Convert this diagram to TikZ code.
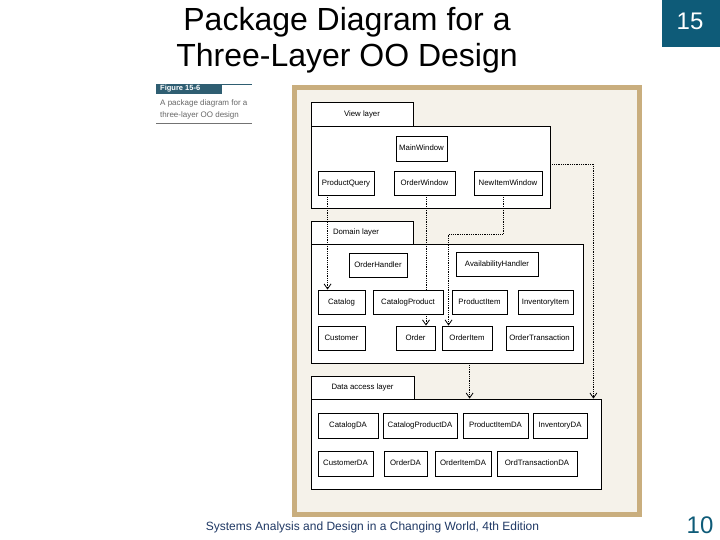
\documentclass[tikz,border=0pt]{standalone}
\usepackage{fontspec}
\setmainfont{Liberation Sans}
\usetikzlibrary{arrows.meta}
\definecolor{frametan}{HTML}{C9AE7E}
\definecolor{framebg}{HTML}{F5F2EA}
\definecolor{teal}{HTML}{0E5B78}
\definecolor{slate}{HTML}{2F5E72}
\definecolor{foot}{HTML}{1F3864}
\pgfdeclarelayer{back}
\pgfdeclarelayer{deps}
\pgfsetlayers{back,deps,main}
\tikzset{
  cls/.style={draw=black, line width=0.9pt, fill=white, inner sep=0pt,
    font=\fontsize{7.8}{9}\selectfont, minimum height=24pt,
    text height=5.8pt, text depth=1.2pt},
  pkg/.style={draw=black, line width=0.8pt, fill=white, inner sep=0pt},
  tablbl/.style={font=\fontsize{7.8}{9}\selectfont, text height=5.8pt, text depth=1.2pt},
  dep/.style={densely dotted, line width=0.8pt, -{Straight Barb[length=5pt,width=7pt,line width=0.8pt]}}
}
\begin{document}
\begin{tikzpicture}[x=1pt,y=-1pt]
\useasboundingbox (0,0) rectangle (720,540);
% title
\node[align=center, font=\fontsize{32}{36}\selectfont] (title) at (347,40)
  {Package Diagram for a\\Three-Layer OO Design};
\fill[teal] (662,0) rectangle (720,47);
\node[text=white, font=\fontsize{24}{28}\selectfont] (pnum) at (690,21) {15};
% caption block
\draw[slate, line width=0.6pt] (156,84) -- (252,84);
\fill[slate] (156,84) rectangle (222,94);
\node[anchor=west, text=white, font=\fontsize{7.5}{8}\bfseries, inner sep=0pt] (figlbl) at (160,89) {Figure 15-6};
\node[anchor=west, text=black!60, align=left, inner sep=0pt, font=\fontsize{8}{12}\selectfont] (cap) at (160,109)
  {A package diagram for a\\three-layer OO design};
\draw[black!55, line width=0.8pt] (156,123) -- (252,123);
\begin{pgfonlayer}{back}
% frame
\draw[line width=4.5pt, draw=frametan, fill=framebg] (294.5,87.5) rectangle (639.5,514.5);
% package outlines
\node[pkg, minimum width=102pt, minimum height=24.5pt] (viewtab) at (362,114.2) {};
\node[pkg, minimum width=239pt, minimum height=82pt] (viewbody) at (430.5,167) {};
\node[pkg, minimum width=102pt, minimum height=23pt] (domtab) at (362,232.5) {};
\node[pkg, minimum width=272pt, minimum height=119pt] (dombody) at (447,303.5) {};
\node[pkg, minimum width=103pt, minimum height=23pt] (datab) at (362.5,387.5) {};
\node[pkg, minimum width=290pt, minimum height=90pt] (dabody) at (456,444) {};
\end{pgfonlayer}
% tab labels
\node[tablbl] (viewlbl) at (viewtab.center) {View layer};
\node[tablbl] (domlbl) at (356,232.5) {Domain layer};
\node[tablbl] (dalbl) at (datab.center) {Data access layer};
% view layer
\node[cls, minimum width=51pt, minimum height=25pt] (MainWindow) at (421.5,148.5) {MainWindow};
\node[cls, minimum width=56pt] (ProductQuery) at (346,183) {ProductQuery};
\node[cls, minimum width=61pt] (OrderWindow) at (424.5,183) {OrderWindow};
\node[cls, minimum width=68pt] (NewItemWindow) at (508,183) {NewItemWindow};
% domain layer
\node[cls, minimum width=58pt] (OrderHandler) at (378,265) {OrderHandler};
\node[cls, minimum width=82pt] (AvailabilityHandler) at (497,264) {AvailabilityHandler};
\node[cls, minimum width=47pt] (Catalog) at (341.5,302) {Catalog};
\node[cls, minimum width=70pt] (CatalogProduct) at (408,302) {CatalogProduct};
\node[cls, minimum width=55pt] (ProductItem) at (479.5,302) {ProductItem};
\node[cls, minimum width=55pt] (InventoryItem) at (545.5,302) {InventoryItem};
\node[cls, minimum width=47pt] (Customer) at (341.5,338) {Customer};
\node[cls, minimum width=39pt] (Order) at (415.5,338) {Order};
\node[cls, minimum width=50pt] (OrderItem) at (467,338) {OrderItem};
\node[cls, minimum width=67pt] (OrderTransaction) at (539.5,338) {OrderTransaction};
% data access layer
\node[cls, minimum width=60pt, minimum height=25pt] (CatalogDA) at (348,425.5) {CatalogDA};
\node[cls, minimum width=74pt, minimum height=25pt] (CatalogProductDA) at (420,425.5) {CatalogProductDA};
\node[cls, minimum width=65pt, minimum height=25pt] (ProductItemDA) at (495.5,425.5) {ProductItemDA};
\node[cls, minimum width=54pt, minimum height=25pt] (InventoryDA) at (560,425.5) {InventoryDA};
\node[cls, minimum width=55pt, minimum height=25pt] (CustomerDA) at (345.5,463.5) {CustomerDA};
\node[cls, minimum width=43pt, minimum height=25pt] (OrderDA) at (405.5,463.5) {OrderDA};
\node[cls, minimum width=56pt, minimum height=25pt] (OrderItemDA) at (463,463.5) {OrderItemDA};
\node[cls, minimum width=80pt, minimum height=25pt] (OrdTransactionDA) at (537,463.5) {OrdTransactionDA};
% dependencies
\begin{pgfonlayer}{deps}
\draw[dep] ([xshift=10pt]ProductQuery.south west) -- ([xshift=10pt]Catalog.north west);
\draw[dep] ([xshift=1.5pt]OrderWindow.south) -- ([xshift=10.5pt]Order.north);
\draw[dep] ([xshift=-5pt]NewItemWindow.south) -- ++(0,39) -| ([xshift=7pt]OrderItem.north west);
\draw[dep] ([yshift=3pt]viewbody.east) -| ([xshift=-8pt]dabody.north east);
\draw[dep] ([xshift=159pt]dombody.south west) -- ([xshift=159pt]dabody.north west);
\end{pgfonlayer}
% footer
\node[text=foot, font=\fontsize{12}{14}\selectfont] (footer) at (372.5,527) {Systems Analysis and Design in a Changing World, 4th Edition};
\node[text=teal, font=\fontsize{24}{28}\selectfont] (pg) at (700,525) {10};
\end{tikzpicture}
\end{document}
